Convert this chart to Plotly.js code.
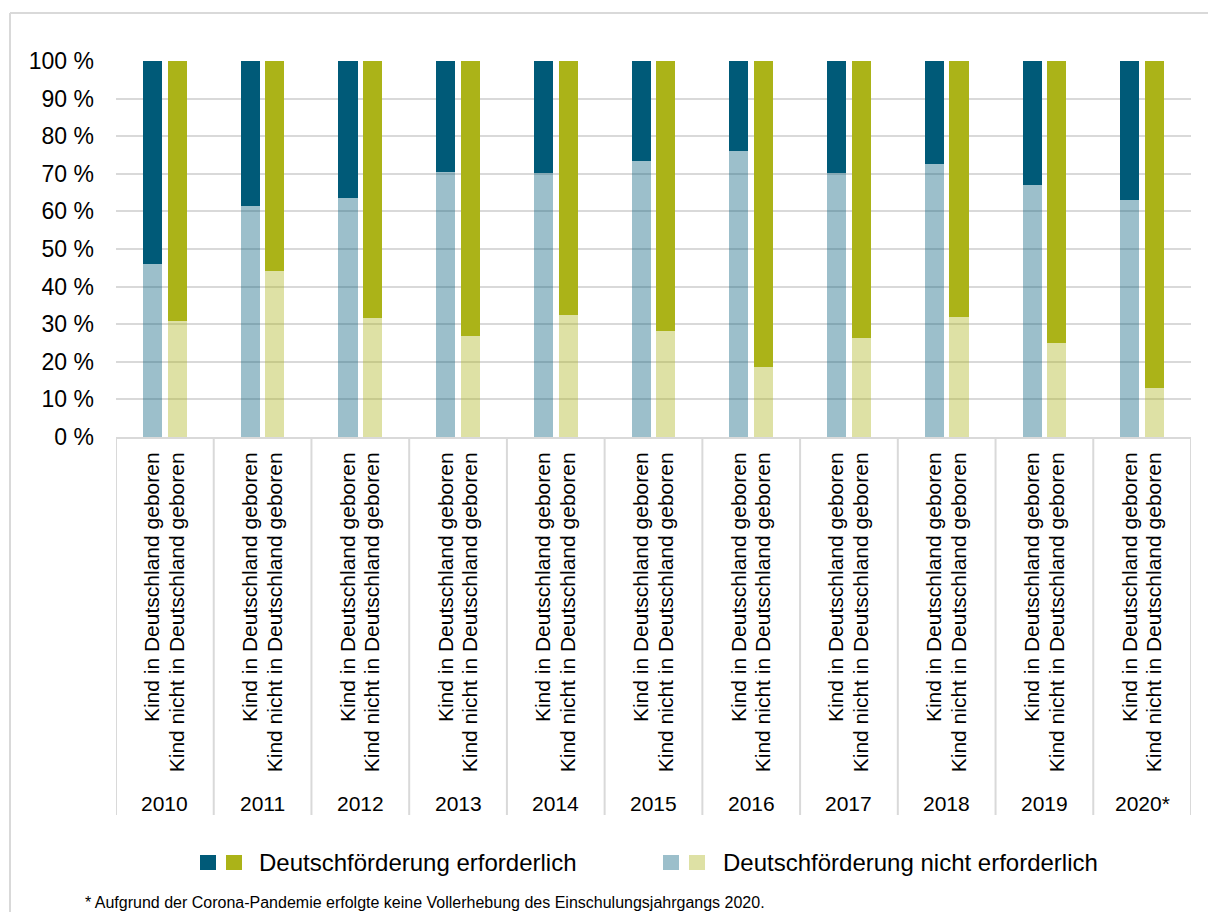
<!DOCTYPE html>
<html>
<head>
<meta charset="utf-8">
<script src="https://cdn.plot.ly/plotly-3.0.1.min.js"></script>
<style>
  html, body { margin: 0; padding: 0; background: #ffffff; }
  #chart { width: 1208px; height: 912px; }
</style>
</head>
<body>
<div id="chart"></div>
<script>
// ---- data ----
const years = ['2010', '2011', '2012', '2013', '2014', '2015', '2016', '2017', '2018', '2019', '2020*'];
const groupLabels = ['Kind in Deutschland geboren', 'Kind nicht in Deutschland geboren'];
const yTickVals = [0, 10, 20, 30, 40, 50, 60, 70, 80, 90, 100];
const yTickText = ['0 %', '10 %', '20 %', '30 %', '40 %', '50 %', '60 %', '70 %', '80 %', '90 %', '100 %'];

// Kind in Deutschland geboren
const inDE_nichtErf = [46.0, 61.5, 63.5, 70.5, 70.2, 73.4, 76.1, 70.2, 72.6, 67.0, 63.0];
const inDE_erf      = [54.0, 38.5, 36.5, 29.5, 29.8, 26.6, 23.9, 29.8, 27.4, 33.0, 37.0];
// Kind nicht in Deutschland geboren
const notDE_nichtErf = [30.8, 44.1, 31.7, 26.8, 32.4, 28.1, 18.5, 26.4, 32.0, 24.9, 13.0];
const notDE_erf      = [69.2, 55.9, 68.3, 73.2, 67.6, 71.9, 81.5, 73.6, 68.0, 75.1, 87.0];

const legendNames = ['Deutschförderung erforderlich', 'Deutschförderung nicht erforderlich'];
const footnote = '* Aufgrund der Corona-Pandemie erfolgte keine Vollerhebung des Einschulungsjahrgangs 2020.';

// ---- styling ----
const FONT = 'Liberation Sans, Arial, sans-serif';
const blueDark = 'rgb(0,90,120)';
const greenDark = 'rgb(171,179,24)';
const blueLight = 'rgba(0,90,120,0.39)';
const greenLight = 'rgba(171,179,24,0.39)';
const grid = '#d9d9d9';

const W = 1208, H = 912;
const mL = 116, mR = 17, mT = 61, mB = 475;
const plotW = W - mL - mR, plotH = H - mT - mB;
const px2x = p => (p - mL) / plotW;
const py2y = p => (H - mB - p) / plotH;

const OFF = 0.126, BW = 0.195;
const idx = years.map((_, i) => i);
const xIn = idx.map(i => i - OFF);
const xNot = idx.map(i => i + OFF);

const traces = [
  { type: 'bar', x: xIn, y: inDE_nichtErf, width: BW, marker: { color: blueLight }, name: groupLabels[0] + ' – ' + legendNames[1] },
  { type: 'bar', x: xIn, y: inDE_erf, width: BW, marker: { color: blueDark }, name: groupLabels[0] + ' – ' + legendNames[0] },
  { type: 'bar', x: xNot, y: notDE_nichtErf, width: BW, marker: { color: greenLight }, name: groupLabels[1] + ' – ' + legendNames[1] },
  { type: 'bar', x: xNot, y: notDE_erf, width: BW, marker: { color: greenDark }, name: groupLabels[1] + ' – ' + legendNames[0] }
];

const tickVals = [], tickText = [];
idx.forEach(i => { tickVals.push(i - OFF, i + OFF); tickText.push(groupLabels[0], groupLabels[1]); });

const shapes = [];
// outer frame
shapes.push({ type: 'line', xref: 'paper', yref: 'paper', x0: px2x(10), x1: px2x(10), y0: py2y(13), y1: py2y(915), line: { color: grid, width: 2 } });
shapes.push({ type: 'line', xref: 'paper', yref: 'paper', x0: px2x(10), x1: px2x(1210), y0: py2y(13), y1: py2y(13), line: { color: grid, width: 2 } });
// category dividers
for (let i = 0; i <= years.length; i++) {
  shapes.push({ type: 'line', xref: 'x', yref: 'paper', x0: i - 0.5, x1: i - 0.5, y0: 0, y1: py2y(815), line: { color: grid, width: 2 } });
}
// legend squares
const sq = (x0, color) => ({ type: 'rect', xref: 'paper', yref: 'paper', x0: px2x(x0), x1: px2x(x0 + 16), y0: py2y(870), y1: py2y(855), line: { width: 0 }, fillcolor: color });
shapes.push(sq(200, blueDark), sq(226, greenDark), sq(663, blueLight), sq(689, greenLight));

const annotations = [];
years.forEach((yr, i) => {
  annotations.push({ x: i, xref: 'x', y: py2y(803), yref: 'paper', text: yr, showarrow: false, xanchor: 'center', yanchor: 'middle', font: { family: FONT, size: 21, color: '#000' } });
});
annotations.push({ x: px2x(257), xref: 'paper', y: py2y(862), yref: 'paper', text: legendNames[0], showarrow: false, xanchor: 'left', yanchor: 'middle', font: { family: FONT, size: 24, color: '#000' } });
annotations.push({ x: px2x(721), xref: 'paper', y: py2y(862), yref: 'paper', text: legendNames[1], showarrow: false, xanchor: 'left', yanchor: 'middle', font: { family: FONT, size: 24, color: '#000' } });
annotations.push({ x: px2x(83), xref: 'paper', y: py2y(902), yref: 'paper', text: footnote, showarrow: false, xanchor: 'left', yanchor: 'middle', font: { family: FONT, size: 16, color: '#000' } });

const layout = {
  width: W, height: H,
  margin: { l: mL, r: mR, t: mT, b: mB, pad: 0 },
  paper_bgcolor: '#fff', plot_bgcolor: '#fff',
  barmode: 'stack',
  showlegend: false,
  font: { family: FONT, color: '#000' },
  xaxis: {
    range: [-0.5, years.length - 0.5],
    tickmode: 'array', tickvals: tickVals, ticktext: tickText,
    tickangle: -90, tickfont: { family: FONT, size: 21, color: '#000' },
    ticks: '', ticklabelstandoff: 5,
    showgrid: false, zeroline: false,
    showline: true, linecolor: grid, linewidth: 2,
    fixedrange: true
  },
  yaxis: {
    range: [0, 100],
    tickmode: 'array', tickvals: yTickVals, ticktext: yTickText,
    tickfont: { family: FONT, size: 23, color: '#000' },
    ticks: '', ticklabelstandoff: 21,
    showgrid: true, gridcolor: grid, gridwidth: 2,
    zeroline: false, showline: false,
    fixedrange: true
  },
  shapes: shapes,
  annotations: annotations
};

Plotly.newPlot('chart', traces, layout, { displayModeBar: false, staticPlot: true });
</script>
</body>
</html>
